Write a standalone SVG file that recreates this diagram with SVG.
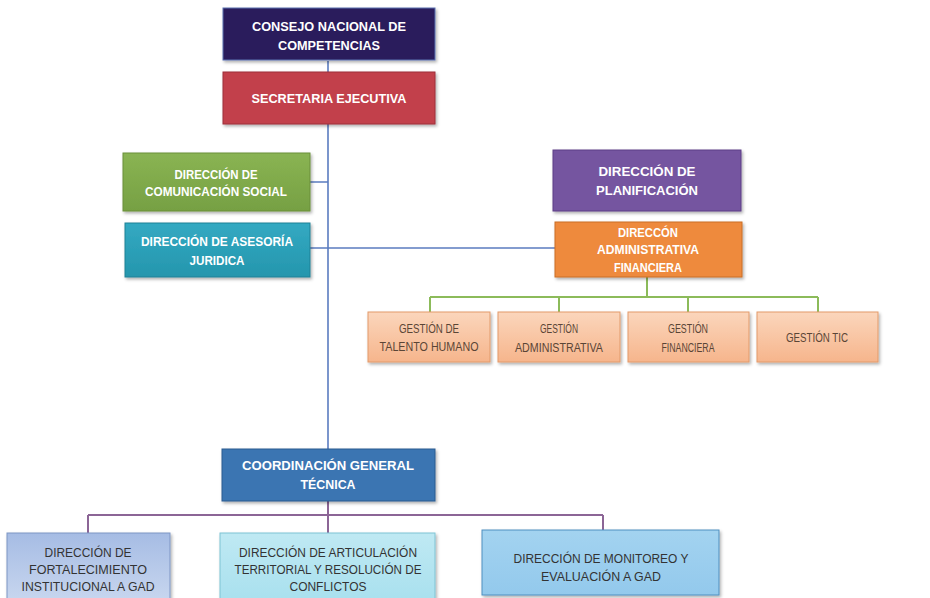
<svg xmlns="http://www.w3.org/2000/svg" width="930" height="598" viewBox="0 0 930 598">
<defs>
<filter id="sh" x="-10%" y="-10%" width="125%" height="140%">
<feDropShadow dx="1.5" dy="2" stdDeviation="1.5" flood-color="#000" flood-opacity="0.3"/>
</filter>
<linearGradient id="gGreen" x1="0" y1="0" x2="0" y2="1"><stop offset="0" stop-color="#8ab453"/><stop offset="1" stop-color="#76a043"/></linearGradient>
<linearGradient id="gTeal" x1="0" y1="0" x2="0" y2="1"><stop offset="0" stop-color="#33a9c2"/><stop offset="1" stop-color="#2596ad"/></linearGradient>
<linearGradient id="gPeach" x1="0" y1="0" x2="0" y2="1"><stop offset="0" stop-color="#fbd6bc"/><stop offset="1" stop-color="#f6b58c"/></linearGradient>
<linearGradient id="gLilac" x1="0" y1="0" x2="0" y2="1"><stop offset="0" stop-color="#a6bce4"/><stop offset="1" stop-color="#c9d7ef"/></linearGradient>
<linearGradient id="gCyan" x1="0" y1="0" x2="0" y2="1"><stop offset="0" stop-color="#bfe9f3"/><stop offset="1" stop-color="#a8e0ee"/></linearGradient>
<linearGradient id="gSky" x1="0" y1="0" x2="0" y2="1"><stop offset="0" stop-color="#a3d3f0"/><stop offset="1" stop-color="#93c9ec"/></linearGradient>
</defs>
<style>
text{font-family:"Liberation Sans","Open Sans",sans-serif;text-anchor:middle}
.w{fill:#fff;font-weight:bold;font-size:13.5px}
.ws{fill:#fff;font-weight:bold;font-size:12px}
.g{fill:#5a4536;font-size:12px}
.d{fill:#333;font-size:12.5px}
rect{filter:url(#sh)}
.blue{stroke:#5b7cc0;stroke-width:1.6;fill:none}
.green{stroke:#8cbb5a;stroke-width:2;fill:none}
.purple{stroke:#8c6596;stroke-width:2;fill:none}
</style>
<g id="connectors">
<path class="blue" d="M328 61V72M328 124V449M310 182H328M310 248H555"/>
<path class="green" d="M647 277V297M430 297H818M430 297V312M559 297V312M688 297V312M818 297V312"/>
<path class="purple" d="M328 501V515M88 515H603M88 515V533M328 515V533M603 515V530"/>
</g>
<g id="consejo">
<rect x="223" y="8" width="212" height="52" fill="#2b1f5c" stroke="#5a6fb0" stroke-width="1"/>
<text class="w" x="329" y="31" textLength="154" lengthAdjust="spacingAndGlyphs">CONSEJO NACIONAL DE</text>
<text class="w" x="329" y="50" textLength="102" lengthAdjust="spacingAndGlyphs">COMPETENCIAS</text>
</g>
<g id="secretaria">
<rect x="223" y="72" width="212" height="52" fill="#c2414c" stroke="#9c2e38" stroke-width="1"/>
<text class="w" x="329" y="103" textLength="155" lengthAdjust="spacingAndGlyphs">SECRETARIA EJECUTIVA</text>
</g>
<g id="comunicacion">
<rect x="123" y="153" width="187" height="58" fill="url(#gGreen)" stroke="#6a8f3a" stroke-width="1"/>
<text class="ws" x="216" y="179" textLength="83" lengthAdjust="spacingAndGlyphs">DIRECCIÓN DE</text>
<text class="ws" x="216" y="196" textLength="142" lengthAdjust="spacingAndGlyphs">COMUNICACIÓN SOCIAL</text>
</g>
<g id="asesoria">
<rect x="125" y="223" width="185" height="54" fill="url(#gTeal)" stroke="#1f8196" stroke-width="1"/>
<text class="w" x="217" y="246" textLength="152" lengthAdjust="spacingAndGlyphs">DIRECCIÓN DE ASESORÍA</text>
<text class="w" x="217" y="265" textLength="55" lengthAdjust="spacingAndGlyphs">JURIDICA</text>
</g>
<g id="planificacion">
<rect x="553" y="150" width="188" height="61" fill="#7454a0" stroke="#5c3f86" stroke-width="1"/>
<text class="w" x="647" y="176" textLength="97" lengthAdjust="spacingAndGlyphs">DIRECCIÓN DE</text>
<text class="w" x="647" y="195" textLength="102" lengthAdjust="spacingAndGlyphs">PLANIFICACIÓN</text>
</g>
<g id="administrativa">
<rect x="555" y="222" width="187" height="55" fill="#ee8a3c" stroke="#c96c24" stroke-width="1"/>
<text class="ws" x="648" y="237" textLength="60" lengthAdjust="spacingAndGlyphs">DIRECCÓN</text>
<text class="ws" x="648" y="254" textLength="102" lengthAdjust="spacingAndGlyphs">ADMINISTRATIVA</text>
<text class="ws" x="648" y="272" textLength="68" lengthAdjust="spacingAndGlyphs">FINANCIERA</text>
</g>
<g id="talento">
<rect x="368" y="312" width="122" height="50" fill="url(#gPeach)" stroke="#e39a6a" stroke-width="1"/>
<text class="g" x="429" y="333" textLength="60" lengthAdjust="spacingAndGlyphs">GESTIÓN DE</text>
<text class="g" x="429" y="351" textLength="99" lengthAdjust="spacingAndGlyphs">TALENTO HUMANO</text>
</g>
<g id="gadministrativa">
<rect x="498" y="312" width="122" height="50" fill="url(#gPeach)" stroke="#e39a6a" stroke-width="1"/>
<text class="g" x="559" y="333" textLength="38" lengthAdjust="spacingAndGlyphs">GESTIÓN</text>
<text class="g" x="559" y="352" textLength="88" lengthAdjust="spacingAndGlyphs">ADMINISTRATIVA</text>
</g>
<g id="financiera">
<rect x="628" y="312" width="121" height="50" fill="url(#gPeach)" stroke="#e39a6a" stroke-width="1"/>
<text class="g" x="688" y="333" textLength="40" lengthAdjust="spacingAndGlyphs">GESTIÓN</text>
<text class="g" x="688" y="352" textLength="53" lengthAdjust="spacingAndGlyphs">FINANCIERA</text>
</g>
<g id="tic">
<rect x="757" y="312" width="121" height="50" fill="url(#gPeach)" stroke="#e39a6a" stroke-width="1"/>
<text class="g" x="817" y="342" textLength="62" lengthAdjust="spacingAndGlyphs">GESTIÓN TIC</text>
</g>
<g id="coordinacion">
<rect x="222" y="449" width="213" height="52" fill="#3b75b2" stroke="#2a5a8f" stroke-width="1"/>
<text class="w" x="328" y="470" textLength="172" lengthAdjust="spacingAndGlyphs">COORDINACIÓN GENERAL</text>
<text class="w" x="328" y="489" textLength="55" lengthAdjust="spacingAndGlyphs">TÉCNICA</text>
</g>
<g id="fortalecimiento">
<rect x="7" y="533" width="163" height="70" fill="url(#gLilac)" stroke="#7d95c4" stroke-width="1"/>
<text class="d" x="88" y="557" textLength="87" lengthAdjust="spacingAndGlyphs">DIRECCIÓN DE</text>
<text class="d" x="88" y="574" textLength="118" lengthAdjust="spacingAndGlyphs">FORTALECIMIENTO</text>
<text class="d" x="88" y="591" textLength="133" lengthAdjust="spacingAndGlyphs">INSTITUCIONAL A GAD</text>
</g>
<g id="articulacion">
<rect x="220" y="533" width="215" height="70" fill="url(#gCyan)" stroke="#7fc3d3" stroke-width="1"/>
<text class="d" x="328" y="557" textLength="178" lengthAdjust="spacingAndGlyphs">DIRECCIÓN DE ARTICULACIÓN</text>
<text class="d" x="328" y="574" textLength="187" lengthAdjust="spacingAndGlyphs">TERRITORIAL Y RESOLUCIÓN DE</text>
<text class="d" x="328" y="591" textLength="77" lengthAdjust="spacingAndGlyphs">CONFLICTOS</text>
</g>
<g id="monitoreo">
<rect x="482" y="530" width="237" height="65" fill="url(#gSky)" stroke="#4f8fbf" stroke-width="1"/>
<text class="d" x="601" y="563" textLength="175" lengthAdjust="spacingAndGlyphs">DIRECCIÓN DE MONITOREO Y</text>
<text class="d" x="601" y="581" textLength="120" lengthAdjust="spacingAndGlyphs">EVALUACIÓN A GAD</text>
</g>
</svg>
